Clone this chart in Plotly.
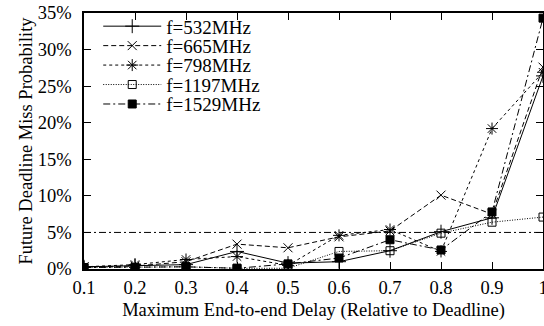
import plotly.graph_objects as go

x_vals = [0.1, 0.2, 0.3, 0.4, 0.5, 0.6, 0.7, 0.8, 0.9, 1.0]
series_names = ["f=532MHz", "f=665MHz", "f=798MHz", "f=1197MHz", "f=1529MHz"]
f532 = [0.3, 0.5, 0.6, 2.4, 0.8, 1.0, 2.5, 5.1, 7.0, 26.4]
f665 = [0.3, 0.4, 1.0, 3.4, 2.9, 4.4, 5.2, 10.1, 7.5, 27.6]
f798 = [0.3, 0.6, 1.3, 1.7, 0.5, 4.6, 5.4, 2.4, 19.2, 26.9]
f1197 = [0.2, 0.2, 0.3, 0.1, 0.1, 2.4, 2.5, 4.9, 6.4, 7.1]
f1529 = [0.2, 0.2, 0.3, 0.1, 0.7, 1.5, 4.0, 2.6, 7.8, 34.3]
threshold = 5.0
x_ticks = [0.1, 0.2, 0.3, 0.4, 0.5, 0.6, 0.7, 0.8, 0.9, 1.0]
x_tick_text = ["0.1", "0.2", "0.3", "0.4", "0.5", "0.6", "0.7", "0.8", "0.9", "1"]
y_ticks = [0, 5, 10, 15, 20, 25, 30, 35]
y_tick_text = ["0%", "5%", "10%", "15%", "20%", "25%", "30%", "35%"]

data = [f532, f665, f798, f1197, f1529]
dashes = ["solid", "5px,3px", "3px,3px", "1px,1.5px", "7px,3px,2px,3px"]
symbols = ["cross-thin-open", "x-thin-open", "asterisk-open", "square-open", "square"]
sizes = [10, 9, 10, 8, 8]
legend_ids = ["legend", "legend2", "legend3", "legend4", "legend5"]
legend_y = [0.948, 0.872, 0.796, 0.720, 0.644]

FONT = "Liberation Serif"
fig = go.Figure()
for name, ys, d, s, sz, lg in zip(series_names, data, dashes, symbols, sizes, legend_ids):
    fig.add_trace(go.Scatter(
        x=x_vals, y=ys, name=name, mode="lines+markers", legend=lg,
        line=dict(color="black", width=1, dash=d),
        marker=dict(symbol=s, size=sz, color="black",
                    line=dict(color="black", width=1)),
    ))

fig.add_trace(go.Scatter(
    x=[x_vals[0], x_vals[-1]], y=[threshold, threshold], mode="lines",
    line=dict(color="black", width=1, dash="7px,3px,2px,3px"), showlegend=False,
    hoverinfo="skip",
))

layout_legends = {}
for lg, ly in zip(legend_ids, legend_y):
    layout_legends[lg] = dict(
        x=0.031, y=ly, xanchor="left", yanchor="middle",
        bgcolor="rgba(0,0,0,0)", itemwidth=58,
        font=dict(family=FONT, size=19, color="black"),
    )

fig.update_layout(
    width=544, height=326,
    margin=dict(l=84, r=1, t=13, b=57),
    paper_bgcolor="white", plot_bgcolor="white",
    font=dict(family=FONT, size=18.5, color="black"),
    showlegend=True,
    **layout_legends,
)
fig.update_xaxes(
    range=[0.1, 1.0], tickvals=x_ticks, ticktext=x_tick_text,
    showgrid=False, zeroline=False, showline=True, linecolor="black",
    linewidth=1.5, mirror="ticks", ticks="inside", ticklen=7,
    tickcolor="black", tickwidth=1,
    title=dict(text="Maximum End-to-end Delay (Relative to Deadline)",
               font=dict(family=FONT, size=18.5), standoff=6),
    ticklabelstandoff=1, automargin=False, ticklabeloverflow="allow",
)
fig.update_yaxes(
    range=[0, 35], tickvals=y_ticks, ticktext=y_tick_text,
    showgrid=False, zeroline=False, showline=True, linecolor="black",
    linewidth=1.5, mirror="ticks", ticks="inside", ticklen=7,
    tickcolor="black", tickwidth=1,
    title=dict(text="Future Deadline Miss Probability",
               font=dict(family=FONT, size=18.5), standoff=0),
    ticklabelstandoff=7, automargin=False, ticklabeloverflow="allow",
)

fig.write_html(
    "out.html",
    config={"displayModeBar": False},
    post_script="document.body.style.margin='0';document.body.style.overflow='hidden';",
)
